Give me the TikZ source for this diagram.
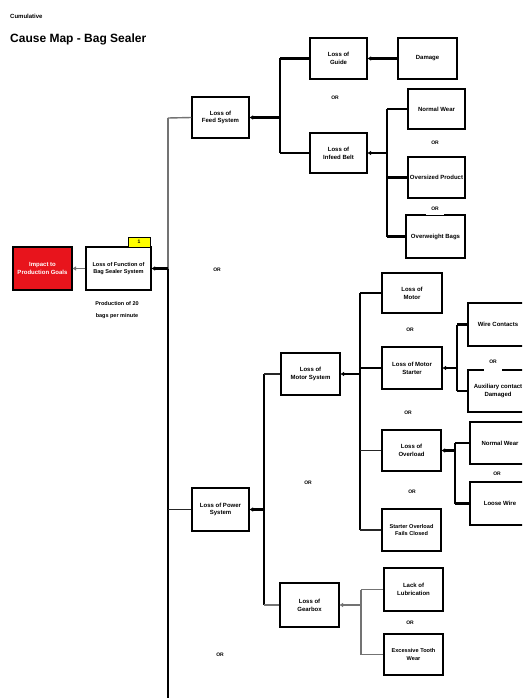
\documentclass[tikz,border=0pt]{standalone}
\usepackage{fontspec}
\setmainfont{Liberation Sans}
\usetikzlibrary{arrows.meta}
\definecolor{impactred}{RGB}{232,20,28}
\definecolor{noteyellow}{RGB}{255,255,0}
\tikzset{
  cbox/.style={draw=black, line width=1.2pt, fill=white, align=center, inner sep=1pt,
    font=\fontsize{6}{7.8}\selectfont\bfseries},
  orlabel/.style={font=\fontsize{5}{5}\selectfont\bfseries, inner sep=1pt},
  orgap/.style={orlabel, fill=white, inner xsep=5pt, inner ysep=4pt},
  thickln/.style={line width=2.2pt, black},
  thinln/.style={line width=1.2pt, black!85},
  grayln/.style={line width=1.4pt, black!55},
  tip/.style={-{Triangle[length=3.5pt,width=4pt]}}
}
\begin{document}
\begin{tikzpicture}[x=1pt,y=-1pt]
\useasboundingbox (0,0) rectangle (522,698);
\clip (0,0) rectangle (522,698);
\fill[white] (0,0) rectangle (522,698);

% header and title
\node[anchor=west, inner sep=0pt, font=\fontsize{6}{6}\selectfont\bfseries] (hdr) at (10,16) {Cumulative};
\node[anchor=west, inner sep=0pt, font=\fontsize{12}{12}\selectfont\bfseries] (title) at (10,39) {Cause Map - Bag Sealer};

% boxes
\node[cbox, fill=impactred, text=white, minimum width=59pt, minimum height=43pt] (impact) at (42.5,268.5) {Impact to\\Production Goals};
\node[cbox, minimum width=65pt, minimum height=43pt, font=\fontsize{5.6}{7.8}\selectfont\bfseries] (func) at (118.5,268.5) {Loss of Function of\\Bag Sealer System};
\node[draw=black, line width=0.8pt, fill=noteyellow, minimum width=22pt, minimum height=10pt, inner sep=0pt, font=\fontsize{5}{5}\selectfont\bfseries] (note) at (139,242) {1};
\node[align=center, inner sep=0pt, font=\fontsize{5.5}{12}\selectfont\bfseries] (goal) at (117,310) {Production of 20\\bags per minute};

\node[cbox, minimum width=57pt, minimum height=41pt] (feed) at (220.5,117.5) {Loss of\\Feed System};
\node[cbox, minimum width=57pt, minimum height=41pt] (guide) at (338.5,58.5) {Loss of\\Guide};
\node[cbox, minimum width=59pt, minimum height=41pt] (damage) at (427.5,58.5) {Damage};
\node[cbox, minimum width=57pt, minimum height=40pt] (infeed) at (338.5,153) {Loss of\\Infeed Belt};
\node[cbox, minimum width=57pt, minimum height=40pt] (wear1) at (436.5,109) {Normal Wear};
\node[cbox, minimum width=57pt, minimum height=41pt] (oversize) at (436.5,177.5) {Oversized Product};
\node[cbox, minimum width=59pt, minimum height=43pt] (overweight) at (435.5,236.5) {Overweight Bags};

\node[cbox, minimum width=57pt, minimum height=43pt] (power) at (220.5,509.5) {Loss of Power\\System};
\node[cbox, minimum width=59pt, minimum height=42pt] (motorsys) at (310.5,374) {Loss of\\Motor System};
\node[cbox, minimum width=60pt, minimum height=40pt] (motor) at (412,293) {Loss of\\Motor};
\node[cbox, minimum width=60pt, minimum height=42pt] (starter) at (412,368) {Loss of Motor\\Starter};
\node[cbox, minimum width=59pt, minimum height=41pt] (overloadloss) at (411.5,450.5) {Loss of\\Overload};
\node[cbox, minimum width=59pt, minimum height=42pt, font=\fontsize{5.6}{7.8}\selectfont\bfseries] (overload) at (411.5,530) {Starter Overload\\Fails Closed};
\node[cbox, minimum width=60pt, minimum height=43pt] (wire) at (498,324.5) {Wire Contacts};
\node[cbox, minimum width=60pt, minimum height=42pt] (aux) at (498,391) {Auxiliary contact\\Damaged};
\node[cbox, minimum width=60pt, minimum height=42pt] (wear2) at (500,443) {Normal Wear};
\node[cbox, minimum width=60pt, minimum height=43pt] (loose) at (500,503.5) {Loose Wire};
\node[cbox, minimum width=59pt, minimum height=44pt] (gearbox) at (309.5,605) {Loss of\\Gearbox};
\node[cbox, minimum width=59pt, minimum height=43pt] (lube) at (413.5,589.5) {Lack of\\Lubrication};
\node[cbox, minimum width=59pt, minimum height=41pt, font=\fontsize{5.6}{7.8}\selectfont\bfseries] (tooth) at (413.5,654.5) {Excessive Tooth\\Wear};

% junction coordinates
\coordinate (tTop) at (168,118);
\coordinate (tMid) at (168,268.5);
\coordinate (tPow) at (168,509.5);
\coordinate (tBot) at (168,700);
\coordinate (fJ) at (280,117.5);
\coordinate (fT) at (280,58.5);
\coordinate (fB) at (280,153);
\coordinate (iJ) at (387,153);
\coordinate (iT) at (387,109);
\coordinate (iM) at (387,177.5);
\coordinate (iB) at (387,236.5);
\coordinate (pJ) at (264,509.5);
\coordinate (pT) at (264,374);
\coordinate (pB) at (264,605);
\coordinate (mJ) at (360,374);
\coordinate (mA) at (360,293);
\coordinate (mB) at (360,368);
\coordinate (mC) at (360,450.5);
\coordinate (mD) at (360,530);
\coordinate (sJ) at (457,368);
\coordinate (sT) at (457,324.5);
\coordinate (sB) at (457,391);
\coordinate (eJ) at (455,450.5);
\coordinate (eT) at (455,443);
\coordinate (eB) at (455,503.5);
\coordinate (gJ) at (361,605);
\coordinate (gT) at (361,589.5);
\coordinate (gB) at (361,654.5);

% connectors
\draw[grayln, tip] (func.west) -- (impact.east);
\draw[grayln] (tTop) -- (tMid);
\draw[thickln] (tMid) -- (tBot);
\draw[thickln, tip] (tMid) -- (func.east);
\draw[grayln] (tTop) -- (feed.west);
\draw[thinln] (tPow) -- (power.west);

\draw[thickln, tip] (fJ) -- (feed.east);
\draw[thickln] (fT) -- (fB);
\draw[thickln] (fT) -- (guide.west);
\draw[thickln] (fB) -- (infeed.west);
\draw[thickln, tip] (damage.west) -- (guide.east);

\draw[thickln, tip] (iJ) -- (infeed.east);
\draw[thickln] (iT) -- (iB);
\draw[thickln] (iT) -- (wear1.west);
\draw[thickln] (iM) -- (oversize.west);
\draw[thickln] (iB) -- (overweight.west);

\draw[thickln, tip] (pJ) -- (power.east);
\draw[thickln] (pT) -- (pB);
\draw[thinln] (pT) -- (motorsys.west);
\draw[grayln] (pB) -- (gearbox.west);

\draw[thickln, tip] (mJ) -- (motorsys.east);
\draw[thickln] (mA) -- (mD);
\draw[thickln] (mA) -- (motor.west);
\draw[thickln] (mB) -- (starter.west);
\draw[thinln] (mC) -- (overloadloss.west);
\draw[thinln] (mD) -- (overload.west);

\draw[thickln, tip] (sJ) -- (starter.east);
\draw[thickln] (sT) -- (sB);
\draw[thickln] (sT) -- (wire.west);
\draw[thickln] (sB) -- (aux.west);

\draw[thickln, tip] (eJ) -- (overloadloss.east);
\draw[thickln] (eT) -- (eB);
\draw[thickln] (eT) -- (wear2.west);
\draw[thickln] (eB) -- (loose.west);

\draw[grayln, tip] (gJ) -- (gearbox.east);
\draw[grayln] (gT) -- (gB);
\draw[grayln] (gT) -- (lube.west);
\draw[grayln] (gB) -- (tooth.west);

% OR labels
\node[orlabel] (or1) at (335,98) {OR};
\node[orlabel] (or2) at (435,143) {OR};
\node[orgap] (or3) at (435,209) {OR};
\node[orlabel] (or4) at (217,270) {OR};
\node[orlabel] (or5) at (410,330) {OR};
\node[orgap, inner ysep=7pt] (or6) at (493,362) {OR};
\node[orlabel] (or7) at (408,413) {OR};
\node[orlabel] (or8) at (497,474) {OR};
\node[orlabel] (or9) at (412,492) {OR};
\node[orlabel] (or10) at (308,483) {OR};
\node[orlabel] (or11) at (410,623) {OR};
\node[orlabel] (or12) at (220,655) {OR};
\end{tikzpicture}
\end{document}
